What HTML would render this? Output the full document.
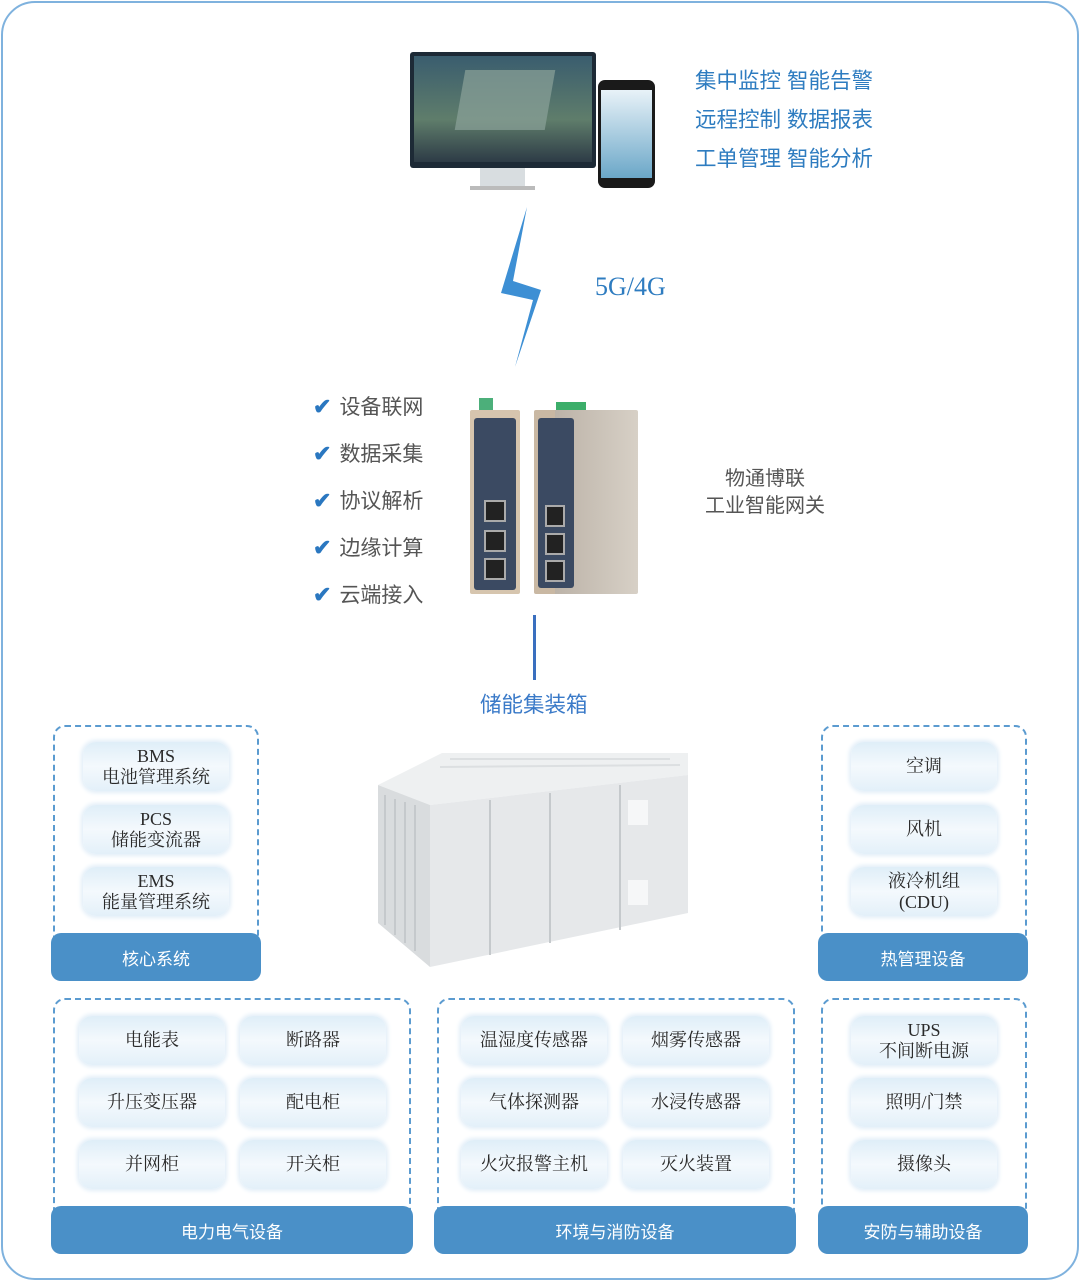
<!DOCTYPE html>
<html><head><meta charset="utf-8"><style>
body{margin:0;width:1080px;height:1281px;background:#fff;position:relative;overflow:hidden;font-family:"Liberation Serif","Noto Serif CJK SC",serif}
.a{position:absolute}
.frame{left:1px;top:1px;border:2px solid #7fb2de;border-radius:34px;box-sizing:border-box;width:1078px;height:1279px}
.dash{border:2px dashed #5b9bd0;border-radius:12px;box-sizing:border-box}
.bar{background:#4a90c8;border-radius:10px;color:#fff;font-family:"Liberation Sans","Noto Sans CJK SC",sans-serif;font-size:17px;display:flex;align-items:center;justify-content:center}
.pill{background:linear-gradient(#dfeef8,#f4f9fd 50%,#e3f0f9);border-radius:13px;box-shadow:0 0 4px 2px #e2eef8;display:flex;align-items:center;justify-content:center;text-align:center;font-size:18px;color:#2a2a2a;line-height:21px;width:146px;height:49px}
.blue{color:#2e7cc0;font-family:"Liberation Sans","Noto Sans CJK SC",sans-serif;font-size:21.5px}
.chk{color:#555;font-family:"Liberation Sans","Noto Sans CJK SC",sans-serif;font-size:21px}
.chk b{color:#2a77c0;font-size:22px;margin-right:8px}
</style></head><body>
<div class="a frame"></div>

<div class="a" style="left:410px;top:52px;width:186px;height:116px;background:#1d2a36;border-radius:3px"></div>
<div class="a" style="left:414px;top:56px;width:178px;height:106px;background:linear-gradient(#3a5d6e,#5f7d6b 60%,#2d3b46)"></div>
<div class="a" style="left:460px;top:70px;width:90px;height:60px;background:#8ca39a;transform:skewX(-10deg);opacity:.7"></div>
<div class="a" style="left:480px;top:168px;width:45px;height:20px;background:#d8dde0"></div>
<div class="a" style="left:470px;top:186px;width:65px;height:4px;background:#bbb"></div>
<div class="a" style="left:598px;top:80px;width:57px;height:108px;background:#1a1a1a;border-radius:7px"></div>
<div class="a" style="left:601px;top:90px;width:51px;height:88px;background:linear-gradient(#e8f2f8,#6ba7c8)"></div>

<div class="a blue" style="left:695px;top:64px">集中监控 智能告警</div>
<div class="a blue" style="left:695px;top:103px">远程控制 数据报表</div>
<div class="a blue" style="left:695px;top:142px">工单管理 智能分析</div>

<svg class="a" style="left:495px;top:205px" width="60" height="165"><polygon points="32,2 6,88 38,95 20,162 46,85 18,76" fill="#3d8fd4"/></svg>
<div class="a" style="left:595px;top:272px;font-size:26px;color:#2e7cc0">5G/4G</div>

<div class="a chk" style="left:313px;top:391px"><b>✔</b>设备联网</div>
<div class="a chk" style="left:313px;top:438px"><b>✔</b>数据采集</div>
<div class="a chk" style="left:313px;top:485px"><b>✔</b>协议解析</div>
<div class="a chk" style="left:313px;top:532px"><b>✔</b>边缘计算</div>
<div class="a chk" style="left:313px;top:579px"><b>✔</b>云端接入</div>

<div class="a" style="left:479px;top:398px;width:14px;height:14px;background:#4caf7a"></div>
<div class="a" style="left:470px;top:410px;width:50px;height:184px;background:#d6c5ae;border-radius:2px"></div>
<div class="a" style="left:474px;top:418px;width:42px;height:172px;background:#3b4a62;border-radius:3px"></div>
<div class="a" style="left:556px;top:402px;width:30px;height:12px;background:#3cae6a"></div>
<div class="a" style="left:534px;top:410px;width:104px;height:184px;background:linear-gradient(90deg,#c9b8a3 0 20%,#bcb3a8 20%,#d7d0c6);border-radius:2px"></div>
<div class="a" style="left:538px;top:418px;width:36px;height:170px;background:#3b4a62;border-radius:3px"></div>
<div class="a" style="left:484px;top:500px;width:18px;height:18px;background:#222;border:2px solid #aaa"></div>
<div class="a" style="left:484px;top:530px;width:18px;height:18px;background:#222;border:2px solid #aaa"></div>
<div class="a" style="left:484px;top:558px;width:18px;height:18px;background:#222;border:2px solid #aaa"></div>
<div class="a" style="left:545px;top:505px;width:16px;height:18px;background:#222;border:2px solid #aaa"></div>
<div class="a" style="left:545px;top:533px;width:16px;height:18px;background:#222;border:2px solid #aaa"></div>
<div class="a" style="left:545px;top:560px;width:16px;height:18px;background:#222;border:2px solid #aaa"></div>

<div class="a" style="left:700px;top:466px;width:130px;text-align:center;color:#555;font-family:'Liberation Sans','Noto Sans CJK SC',sans-serif;font-size:20px;line-height:27px">物通博联<br>工业智能网关</div>
<div class="a" style="left:533px;top:615px;width:3px;height:65px;background:#3a6fbf"></div>
<div class="a blue" style="left:480px;top:688px;color:#3a7ac8">储能集装箱</div>

<svg class="a" style="left:370px;top:745px" width="330" height="225">
<polygon points="8,40 72,8 318,8 318,30 60,60" fill="#eef0f1"/>
<polygon points="8,40 60,60 60,222 8,178" fill="#d9dcde"/>
<polygon points="60,60 318,30 318,168 60,222" fill="#e6e8ea"/>
<g stroke="#c5c9cc" stroke-width="2">
<line x1="15" y1="50" x2="15" y2="180"/><line x1="25" y1="54" x2="25" y2="190"/><line x1="35" y1="57" x2="35" y2="198"/><line x1="45" y1="60" x2="45" y2="206"/>
<line x1="120" y1="55" x2="120" y2="210"/><line x1="180" y1="48" x2="180" y2="198"/><line x1="250" y1="40" x2="250" y2="185"/>
</g>
<g stroke="#dcdfe1" stroke-width="2"><line x1="80" y1="14" x2="300" y2="14"/><line x1="70" y1="22" x2="310" y2="20"/></g>
<rect x="258" y="55" width="20" height="25" fill="#f6f7f8"/><rect x="258" y="135" width="20" height="25" fill="#f6f7f8"/>
</svg>

<div class="a dash" style="left:53px;top:725px;width:206px;height:230px"></div>
<div class="a bar" style="left:51px;top:933px;width:210px;height:48px">核心系统</div>
<div class="a pill" style="left:83px;top:742px">BMS<br>电池管理系统</div>
<div class="a pill" style="left:83px;top:805px">PCS<br>储能变流器</div>
<div class="a pill" style="left:83px;top:867px">EMS<br>能量管理系统</div>

<div class="a dash" style="left:821px;top:725px;width:206px;height:230px"></div>
<div class="a bar" style="left:818px;top:933px;width:210px;height:48px">热管理设备</div>
<div class="a pill" style="left:851px;top:742px">空调</div>
<div class="a pill" style="left:851px;top:805px">风机</div>
<div class="a pill" style="left:851px;top:867px">液冷机组<br>(CDU)</div>

<div class="a dash" style="left:53px;top:998px;width:358px;height:230px"></div>
<div class="a bar" style="left:51px;top:1206px;width:362px;height:48px">电力电气设备</div>
<div class="a pill" style="left:79px;top:1016px">电能表</div>
<div class="a pill" style="left:240px;top:1016px">断路器</div>
<div class="a pill" style="left:79px;top:1078px">升压变压器</div>
<div class="a pill" style="left:240px;top:1078px">配电柜</div>
<div class="a pill" style="left:79px;top:1140px">并网柜</div>
<div class="a pill" style="left:240px;top:1140px">开关柜</div>

<div class="a dash" style="left:437px;top:998px;width:358px;height:230px"></div>
<div class="a bar" style="left:434px;top:1206px;width:362px;height:48px">环境与消防设备</div>
<div class="a pill" style="left:461px;top:1016px">温湿度传感器</div>
<div class="a pill" style="left:623px;top:1016px">烟雾传感器</div>
<div class="a pill" style="left:461px;top:1078px">气体探测器</div>
<div class="a pill" style="left:623px;top:1078px">水浸传感器</div>
<div class="a pill" style="left:461px;top:1140px">火灾报警主机</div>
<div class="a pill" style="left:623px;top:1140px">灭火装置</div>

<div class="a dash" style="left:821px;top:998px;width:206px;height:230px"></div>
<div class="a bar" style="left:818px;top:1206px;width:210px;height:48px">安防与辅助设备</div>
<div class="a pill" style="left:851px;top:1016px">UPS<br>不间断电源</div>
<div class="a pill" style="left:851px;top:1078px">照明/门禁</div>
<div class="a pill" style="left:851px;top:1140px">摄像头</div>
</body></html>
